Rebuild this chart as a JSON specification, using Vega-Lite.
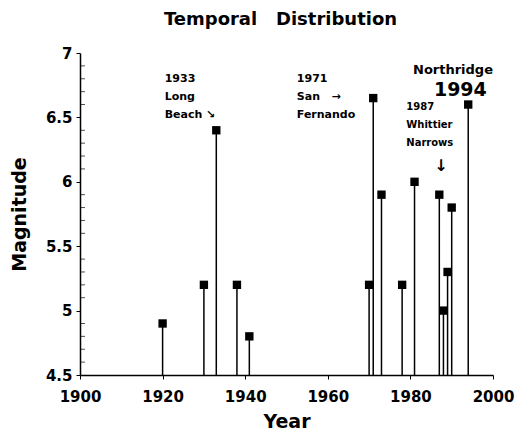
{
  "$schema": "https://vega.github.io/schema/vega-lite/v6.json",
  "width": 413,
  "height": 322,
  "autosize": {"type": "none"},
  "padding": {"left": 80, "top": 53, "right": 25, "bottom": 66},
  "background": "white",
  "title": {"text": "Temporal\u00a0\u00a0\u00a0Distribution", "fontSize": 18, "font": "DejaVu Sans", "fontWeight": "bold", "color": "black", "offset": 17, "dx": -6},
  "config": {
    "view": {"stroke": null},
    "axis": {"labelFont": "DejaVu Sans", "labelFontWeight": "bold", "labelFontSize": 15, "labelColor": "black", "titleFont": "DejaVu Sans", "titleFontWeight": "bold", "titleFontSize": 19, "titleColor": "black", "domainColor": "black", "tickColor": "black", "grid": false, "domainWidth": 1.5}
  },
  "datasets": {
    "quakes": [
      {"year": 1920, "mag": 4.9},
      {"year": 1930, "mag": 5.2},
      {"year": 1933, "mag": 6.4},
      {"year": 1938, "mag": 5.2},
      {"year": 1941, "mag": 4.8},
      {"year": 1970, "mag": 5.2},
      {"year": 1971, "mag": 6.65},
      {"year": 1973, "mag": 5.9},
      {"year": 1978, "mag": 5.2},
      {"year": 1981, "mag": 6.0},
      {"year": 1987, "mag": 5.9},
      {"year": 1988, "mag": 5.0},
      {"year": 1989, "mag": 5.3},
      {"year": 1990, "mag": 5.8},
      {"year": 1994, "mag": 6.6}
    ],
    "notes": [
      {"year": 1920.5, "mag": 6.8, "label": "1933", "size": 11},
      {"year": 1920.5, "mag": 6.66, "label": "Long", "size": 11},
      {"year": 1920.5, "mag": 6.52, "label": "Beach ↘", "size": 11},
      {"year": 1952.5, "mag": 6.8, "label": "1971", "size": 11},
      {"year": 1952.5, "mag": 6.66, "label": "San\u00a0\u00a0\u00a0→", "size": 11},
      {"year": 1952.5, "mag": 6.52, "label": "Fernando", "size": 11},
      {"year": 1979, "mag": 6.58, "label": "1987", "size": 10},
      {"year": 1979, "mag": 6.44, "label": "Whittier", "size": 10},
      {"year": 1979, "mag": 6.3, "label": "Narrows", "size": 10},
      {"year": 1985.8, "mag": 6.12, "label": "↓", "size": 16}
    ],
    "notesRight": [
      {"year": 2000, "mag": 6.87, "label": "Northridge", "size": 13},
      {"year": 1998.5, "mag": 6.71, "label": "1994", "size": 19}
    ],
    "minorY": [
      {"v": 4.6}, {"v": 4.7}, {"v": 4.8}, {"v": 4.9}, {"v": 5.1}, {"v": 5.2}, {"v": 5.3}, {"v": 5.4},
      {"v": 5.6}, {"v": 5.7}, {"v": 5.8}, {"v": 5.9}, {"v": 6.1}, {"v": 6.2}, {"v": 6.3}, {"v": 6.4},
      {"v": 6.6}, {"v": 6.7}, {"v": 6.8}, {"v": 6.9}
    ]
  },
  "layer": [
    {
      "mark": {"type": "rule", "color": "black", "strokeWidth": 1.5},
      "encoding": {"y": {"datum": 7}}
    },
    {
      "data": {"name": "quakes"},
      "mark": {"type": "rule", "color": "black", "strokeWidth": 1.5},
      "encoding": {
        "x": {"field": "year", "type": "quantitative", "scale": {"domain": [1900, 2000], "nice": false}, "title": "Year",
          "axis": {"values": [1900, 1920, 1940, 1960, 1980, 2000], "format": "d", "tickSize": 4, "labelPadding": 10, "labelDx": -6, "titlePadding": 8, "labelFlush": false}},
        "y": {"field": "mag", "type": "quantitative", "scale": {"domain": [4.5, 7], "nice": false, "zero": false}, "title": "Magnitude",
          "axis": {"values": [4.5, 5, 5.5, 6, 6.5, 7], "format": "~g", "tickSize": 4, "labelPadding": 4, "titlePadding": 16, "labelFlush": false}},
        "y2": {"datum": 4.5}
      }
    },
    {
      "data": {"name": "minorY"},
      "mark": {"type": "tick", "orient": "horizontal", "color": "black", "size": 5, "thickness": 1},
      "encoding": {
        "y": {"field": "v", "type": "quantitative"},
        "x": {"datum": 1900.6}
      }
    },
    {
      "data": {"name": "quakes"},
      "mark": {"type": "point", "shape": "square", "filled": true, "color": "black", "size": 70, "opacity": 1},
      "encoding": {
        "x": {"field": "year", "type": "quantitative"},
        "y": {"field": "mag", "type": "quantitative"}
      }
    },
    {
      "data": {"name": "notes"},
      "mark": {"type": "text", "align": "left", "baseline": "middle", "font": "DejaVu Sans", "fontWeight": "bold", "color": "black"},
      "encoding": {
        "x": {"field": "year", "type": "quantitative"},
        "y": {"field": "mag", "type": "quantitative"},
        "text": {"field": "label"},
        "size": {"field": "size", "type": "quantitative", "scale": null}
      }
    },
    {
      "data": {"name": "notesRight"},
      "mark": {"type": "text", "align": "right", "baseline": "middle", "font": "DejaVu Sans", "fontWeight": "bold", "color": "black"},
      "encoding": {
        "x": {"field": "year", "type": "quantitative"},
        "y": {"field": "mag", "type": "quantitative"},
        "text": {"field": "label"},
        "size": {"field": "size", "type": "quantitative", "scale": null}
      }
    }
  ]
}
